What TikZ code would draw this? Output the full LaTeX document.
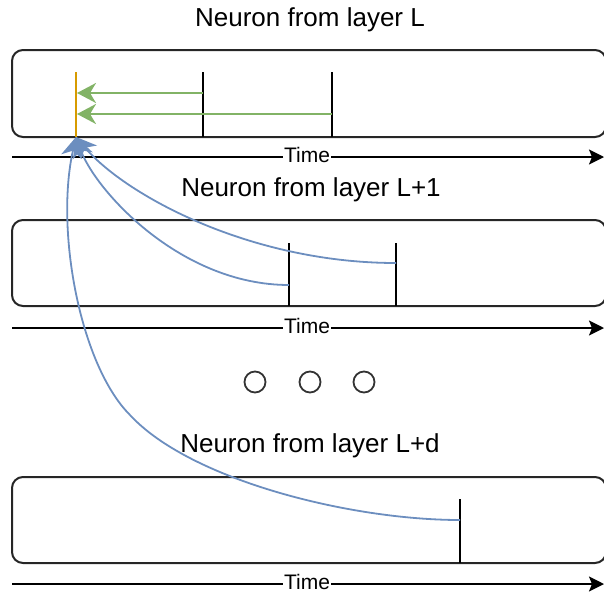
\documentclass[tikz,border=0pt]{standalone}
\usepackage{fontspec}
\setmainfont{Liberation Sans}
\usetikzlibrary{arrows.meta}
\definecolor{creditblue}{HTML}{6C8EBF}
\definecolor{backgreen}{HTML}{82B366}
\definecolor{nowgold}{HTML}{D79B00}

\begin{document}
\begin{tikzpicture}[x=1pt,y=-1pt,
  lane/.style={draw=black!85, line width=2pt, rounded corners=11pt,
    minimum width=594pt, minimum height=86pt, inner sep=0pt},
  spike/.style={draw=black, line width=2pt},
  axis/.style={draw=black, line width=2pt, -{Stealth[length=15pt,width=15pt,inset=3pt]}},
  timelbl/.style={fill=white, inner xsep=1pt, inner ysep=1pt, font=\fontsize{21}{21}\selectfont},
  title/.style={font=\fontsize{26}{26}\selectfont, inner sep=0pt},
  back/.style={draw=backgreen, line width=2pt, -{Stealth[length=19pt,width=20pt,inset=6pt]}},
  credit/.style={draw=creditblue, line width=1.8pt, -{Stealth[length=20pt,width=21pt,inset=6pt]}},
  dot/.style={circle, draw=black!80, line width=1.8pt, minimum size=21pt, inner sep=0pt},
]
\useasboundingbox (0,0) rectangle (604,597);

% layer titles
\node[title] (tL)  at (310,20)  {Neuron from layer L};
\node[title] (tL1) at (311,190) {Neuron from layer L+1};
\node[title] (tLd) at (310,446) {Neuron from layer L+d};

% neuron lanes
\node[lane, minimum height=87pt] (laneL) at (309,93.5) {};
\node[lane] (laneL1) at (309,263) {};
\node[lane] (laneLd) at (309,520) {};

% time axes
\coordinate (aL0) at (12,157);  \coordinate (aL1) at (604,157);
\coordinate (bL0) at (12,328);  \coordinate (bL1) at (604,328);
\coordinate (cL0) at (12,584);  \coordinate (cL1) at (604,584);
\draw[axis] (aL0) -- (aL1);
\draw[axis] (bL0) -- (bL1);
\draw[axis] (cL0) -- (cL1);
\node[timelbl] (timeL)  at (307,155) {Time};
\node[timelbl] (timeL1) at (307,326) {Time};
\node[timelbl] (timeLd) at (307,582) {Time};

% spikes of layer L
\coordinate (nowTop) at (76,72);  \coordinate (tip) at (76,137);
\coordinate (s1t) at (203,72);    \coordinate (s1b) at (203,137);
\coordinate (s2t) at (332,72);    \coordinate (s2b) at (332,137);
\draw[spike] (s1t) -- (s1b);
\draw[spike] (s2t) -- (s2b);
\draw[draw=nowgold, line width=2pt] (nowTop) -- (tip);

% spikes of layer L+1
\coordinate (m1t) at (289,243); \coordinate (m1b) at (289,306);
\coordinate (m2t) at (396,243); \coordinate (m2b) at (396,306);
\draw[spike] (m1t) -- (m1b);
\draw[spike] (m2t) -- (m2b);

% spike of layer L+d
\coordinate (d1t) at (460,499); \coordinate (d1b) at (460,563);
\draw[spike] (d1t) -- (d1b);

% same-layer links
\coordinate (g1s) at (203,93);  \coordinate (g1e) at (77,93);
\coordinate (g2s) at (332,114); \coordinate (g2e) at (77,114);
\draw[back] (g1s) -- (g1e);
\draw[back] (g2s) -- (g2e);

% links from deeper layers
\coordinate (m1) at (289,285);
\coordinate (m2) at (396,263);
\coordinate (d1) at (460,520);
\coordinate (dmid) at (130,415);
\draw[credit] (m1) .. controls (180,285) and (95,190) .. (tip);
\draw[credit] (m2) .. controls (250,263) and (125,195) .. (tip);
\draw[draw=creditblue, line width=1.8pt] (d1) .. controls (350,520) and (190,480) .. (dmid);
\draw[credit] (dmid) .. controls (80,365) and (55,230) .. (tip);

% ellipsis between layers
\node[dot] (e1) at (255,382) {};
\node[dot] (e2) at (310,382) {};
\node[dot] (e3) at (364,382) {};
\end{tikzpicture}
\end{document}
